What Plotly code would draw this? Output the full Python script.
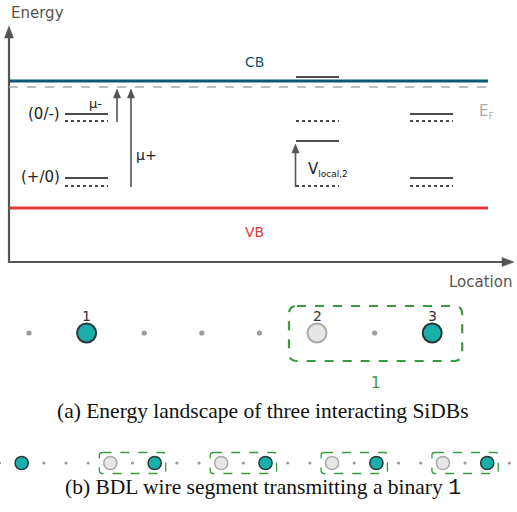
import plotly.graph_objects as go

# ---------------- data ----------------
# energy landscape (canvas units, y grows downward)
band_labels = ["CB", "VB"]
cb_level = 81
vb_level = 208
fermi_level = 87
site_names = ["1", "2", "3"]
site_location = [86.5, 317.5, 431.5]
level_upper_solid = [114, 77, 114]     # (0/-) with local potential
level_upper_dotted = [121, 121, 121]   # (0/-) isolated
level_lower_solid = [178, 141, 178]    # (+/0) with local potential
level_lower_dotted = [186, 186, 186]   # (+/0) isolated

# lattice rows: o = empty site, T = negatively charged SiDB, G = neutral SiDB
row_a_pattern = "oToooGoT"
row_b_pattern = "oToooGoToo" + "GoToo" + "GoToo" + "GoTo"
caption_a = "(a) Energy landscape of three interacting SiDBs"
caption_b = "(b) BDL wire segment transmitting a binary "

# ---------------- styling ----------------
W, H = 517, 512
AX = "#555555"
CB_C = "#0d5878"
VB_C = "#e0393b"
EF_C = "#aaaaaa"
TEAL = "#19b0ac"
DARK = "#2b3636"
GRAYF = "#e6e6e6"
GRAYO = "#a9a9a9"
DOT = "#9c9c9c"
GREEN = "#3a9a44"
SANS = "DejaVu Sans"
SERIF = "Liberation Serif"

fig = go.Figure()
shapes = []
ann = []

def line(x0, y0, x1, y1, color, width, dash="solid"):
    shapes.append(dict(type="line", x0=x0, y0=y0, x1=x1, y1=y1,
                       line=dict(color=color, width=width, dash=dash), layer="above"))

def text(x, y, s, size=13, color="#333333", xanchor="center", family=SANS):
    ann.append(dict(x=x, y=y, text=s, showarrow=False, xanchor=xanchor, yanchor="middle",
                    font=dict(family=family, size=size, color=color)))

def tri(p, color):
    path = "M" + " L".join(f"{a},{b}" for a, b in p) + " Z"
    shapes.append(dict(type="path", path=path, fillcolor=color,
                       line=dict(color=color, width=0.5), layer="above"))

def varrow(x, y_tail, y_tip, width=1.6, hl=9, hw=3.6, color=AX):
    line(x, y_tail, x, y_tip + hl - 1, color, width)
    tri([(x, y_tip), (x - hw, y_tip + hl), (x + hw, y_tip + hl)], color)

def harrow(y, x_tail, x_tip, width=2, hl=11, hw=4.5, color=AX):
    line(x_tail, y, x_tip - hl + 1, y, color, width)
    tri([(x_tip, y), (x_tip - hl, y - hw), (x_tip - hl, y + hw)], color)

def rounded_box(x0, y0, x1, y1, r, color, width, dash):
    p = (f"M{x0+r},{y0} L{x1-r},{y0} Q{x1},{y0} {x1},{y0+r} L{x1},{y1-r} "
         f"Q{x1},{y1} {x1-r},{y1} L{x0+r},{y1} Q{x0},{y1} {x0},{y1-r} "
         f"L{x0},{y0+r} Q{x0},{y0} {x0+r},{y0} Z")
    shapes.append(dict(type="path", path=p, line=dict(color=color, width=width, dash=dash),
                       layer="above"))

def circle(cx, cy, r, fill, outline, width):
    shapes.append(dict(type="circle", x0=cx-r, y0=cy-r, x1=cx+r, y1=cy+r,
                       fillcolor=fill, line=dict(color=outline, width=width), layer="above"))

# ---- axes of energy diagram ----
varrow(9, 263, 26, width=2.2, hl=12, hw=4.5)
harrow(262, 8, 514, width=2.2, hl=12, hw=4.5)
text(9, 13, "Energy", 15, "#555555", "left")
text(514, 282, "Location", 15, "#555555", "right")

# ---- bands ----
line(9, cb_level, 488, cb_level, CB_C, 3.2)
line(9, fermi_level, 486, fermi_level, EF_C, 1.3, "dash")
line(9, vb_level, 488, vb_level, VB_C, 3.2)
text(254, 62, band_labels[0], 14, CB_C)
text(254, 232, band_labels[1], 14, VB_C)
text(477, 111, "E<sub><span style='font-size:9px'>F</span></sub>", 15, EF_C, "left")

# ---- charge transition levels ----
hw_lvl = 21.5
for i, xc in enumerate(site_location):
    line(xc-hw_lvl, level_upper_solid[i], xc+hw_lvl, level_upper_solid[i], "#111111", 1.6)
    line(xc-hw_lvl, level_upper_dotted[i], xc+hw_lvl, level_upper_dotted[i], "#111111", 1.6, "dot")
    line(xc-hw_lvl, level_lower_solid[i], xc+hw_lvl, level_lower_solid[i], "#111111", 1.6)
    line(xc-hw_lvl, level_lower_dotted[i], xc+hw_lvl, level_lower_dotted[i], "#111111", 1.6, "dot")

text(62, 114, "(0/-)", 15, "#222222", "right")
text(62, 177, "(+/0)", 15, "#222222", "right")
text(95, 103, "μ-", 13, "#222222")
text(134, 155, "μ+", 14, "#222222", "left")
text(306, 169, "V<sub><span style='font-size:9px'>local,2</span></sub>", 15, "#222222", "left")

varrow(117, level_upper_dotted[0] + 1, fermi_level + 2)
varrow(131, level_lower_dotted[0] + 1, fermi_level + 2)
varrow(site_location[1] - 22, level_lower_dotted[1] + 1, level_lower_solid[1] + 3)

# ---- lattice row (a) ----
ya, xa0, da = 333, 29, 57.6
for i, c in enumerate(row_a_pattern):
    x = xa0 + da * i
    if c == "o":
        circle(x, ya, 2.6, DOT, DOT, 0)
    elif c == "T":
        circle(x, ya, 9.5, TEAL, DARK, 2)
    else:
        circle(x, ya, 9.5, GRAYF, GRAYO, 2)
occupied = [xa0 + da * i for i, c in enumerate(row_a_pattern) if c != "o"]
for name, x in zip(site_names, occupied):
    text(x, 316, name, 14, "#333333")
rounded_box(occupied[1] - 28, 306, occupied[2] + 30, 361, 8, GREEN, 2.2, "dash")
text((occupied[1] + occupied[2]) / 2 + 1, 383, "1", 15, GREEN)
text(263, 411, caption_a, 21.5, "#111111", family=SERIF)

# ---- lattice row (b) ----
yb, xb0, db = 463, -0.5, 22.17
for i, c in enumerate(row_b_pattern):
    x = xb0 + db * i
    if c == "o":
        circle(x, yb, 1.6, DOT, DOT, 0)
    elif c == "T":
        circle(x, yb, 6.6, TEAL, DARK, 1.5)
    else:
        circle(x, yb, 6.6, GRAYF, GRAYO, 1.5)
for i, c in enumerate(row_b_pattern):
    if c == "G":
        gx = xb0 + db * i
        tx = xb0 + db * (i + 2)
        rounded_box(gx - 11, yb - 10.5, tx + 11, yb + 10.5, 3, GREEN, 1.3, "dash")
text(263, 487, caption_b + "<span style='font-family:Liberation Mono'>1</span>", 21.5,
     "#111111", family=SERIF)

fig.update_layout(
    width=W, height=H, margin=dict(l=0, r=0, t=0, b=0),
    paper_bgcolor="white", plot_bgcolor="white",
    xaxis=dict(range=[0, W], visible=False, fixedrange=True),
    yaxis=dict(range=[H, 0], visible=False, fixedrange=True),
    shapes=shapes, annotations=ann, showlegend=False,
)
fig.write_html("out.html", config={"displayModeBar": False},
               post_script="document.body.style.margin='0';document.body.style.overflow='hidden';")
